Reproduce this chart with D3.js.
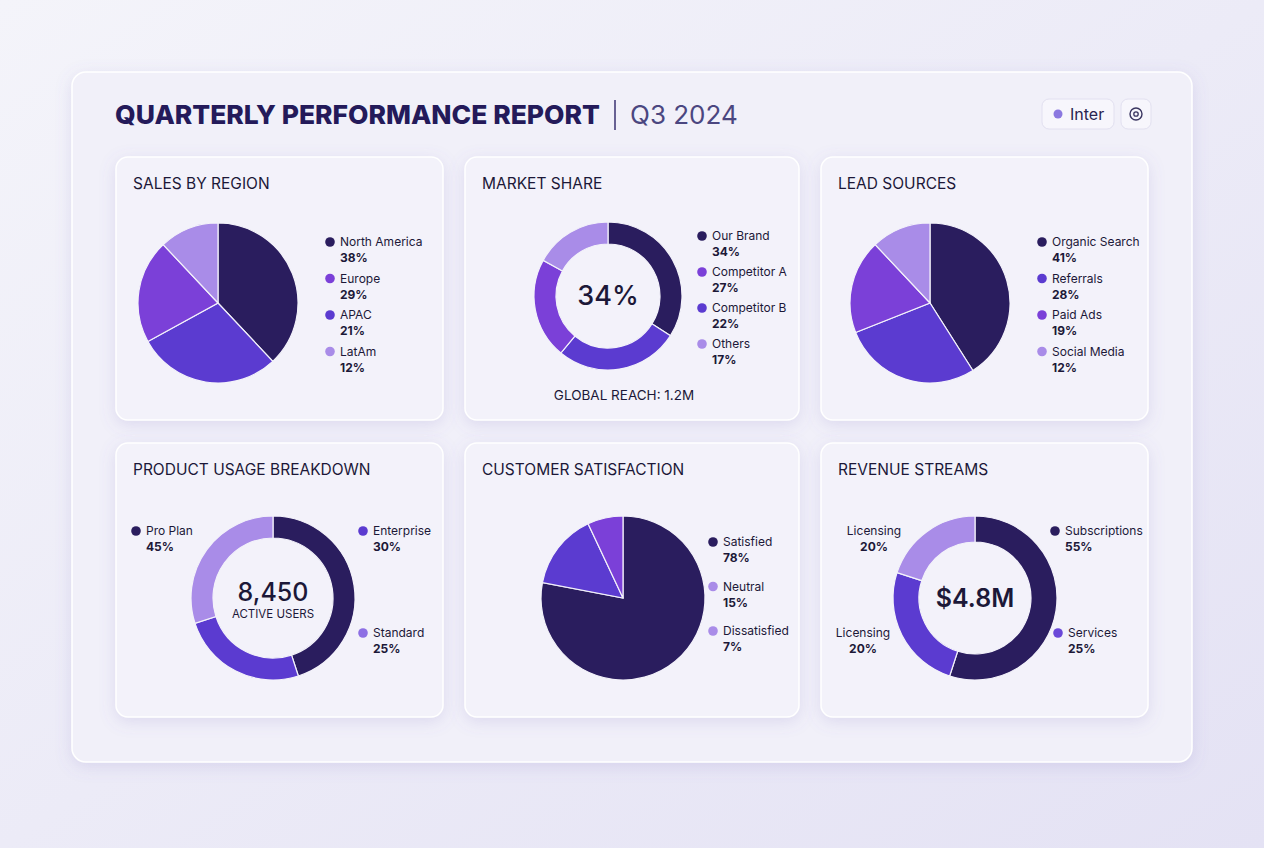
<!DOCTYPE html>
<html>
<head>
<meta charset="utf-8">
<script src="https://cdn.jsdelivr.net/npm/d3@7"></script>
<style>
  body { margin: 0; background: #eeeef8; font-family: Inter, "Noto Sans", sans-serif; }
  svg { display: block; }
</style>
</head>
<body>
<svg id="chart" width="1264" height="848"></svg>
<script>
var DARK = '#2a1d5e', PURPLE = '#7b40d8', BLUE = '#5b3bd0', LIGHT = '#a98ce8';

// data
var salesLabels = ['North America', 'Europe', 'APAC', 'LatAm'];
var salesValues = [38, 29, 21, 12];
var salesColors = [DARK, BLUE, PURPLE, LIGHT];
var salesLegendColors = [DARK, PURPLE, BLUE, LIGHT];

var shareLabels = ['Our Brand', 'Competitor A', 'Competitor B', 'Others'];
var shareValues = [34, 27, 22, 17];
var shareColors = [DARK, BLUE, PURPLE, LIGHT];
var shareLegendColors = [DARK, PURPLE, BLUE, LIGHT];

var leadLabels = ['Organic Search', 'Referrals', 'Paid Ads', 'Social Media'];
var leadValues = [41, 28, 19, 12];
var leadColors = [DARK, BLUE, PURPLE, LIGHT];
var leadLegendColors = [DARK, BLUE, PURPLE, LIGHT];

var usageLabels = ['Pro Plan', 'Standard', 'Enterprise'];
var usageValues = [45, 25, 30];
var usageColors = [DARK, BLUE, LIGHT];

var satLabels = ['Satisfied', 'Neutral', 'Dissatisfied'];
var satValues = [78, 15, 7];
var satColors = [DARK, BLUE, PURPLE];
var satLegendColors = [DARK, LIGHT, LIGHT];

var revLabels = ['Subscriptions', 'Services', 'Licensing'];
var revValues = [55, 25, 20];
var revColors = [DARK, BLUE, LIGHT];

var svg = d3.select('#chart');
var defs = svg.append('defs');
var bg = defs.append('linearGradient').attr('id', 'bg').attr('x1', 0).attr('y1', 0).attr('x2', 1).attr('y2', 1);
bg.append('stop').attr('offset', 0).attr('stop-color', '#f4f4fa');
bg.append('stop').attr('offset', 1).attr('stop-color', '#e4e2f4');
var sh = defs.append('filter').attr('id', 'sh').attr('x', -0.2).attr('y', -0.2).attr('width', 1.4).attr('height', 1.4);
sh.append('feDropShadow').attr('dx', 0).attr('dy', 4).attr('stdDeviation', 8).attr('flood-color', '#7a6fc0').attr('flood-opacity', 0.18);

svg.append('rect').attr('width', 1264).attr('height', 848).attr('fill', 'url(#bg)');
svg.append('rect').attr('x', 72).attr('y', 72).attr('width', 1120).attr('height', 690).attr('rx', 14)
  .attr('fill', '#f1f0f9').attr('stroke', '#ffffff').attr('stroke-width', 1.5).attr('filter', 'url(#sh)');

// header
svg.append('text').attr('x', 115).attr('y', 124).attr('font-size', 26).attr('font-weight', 800).attr('fill', '#241a5a')
  .attr('textLength', 485).attr('lengthAdjust', 'spacingAndGlyphs')
  .text('QUARTERLY PERFORMANCE REPORT');
svg.append('line').attr('x1', 615).attr('x2', 615).attr('y1', 100).attr('y2', 130).attr('stroke', '#3a3270').attr('stroke-width', 1.5);
svg.append('text').attr('x', 630).attr('y', 124).attr('font-size', 26).attr('fill', '#4b4680').text('Q3 2024');
svg.append('rect').attr('x', 1042).attr('y', 99).attr('width', 72).attr('height', 30).attr('rx', 7).attr('fill', '#f7f6fc').attr('stroke', '#e2e0f0');
svg.append('circle').attr('cx', 1058).attr('cy', 114).attr('r', 4.5).attr('fill', '#8b78e0');
svg.append('text').attr('x', 1070).attr('y', 120).attr('font-size', 16).attr('fill', '#2a2450').text('Inter');
svg.append('rect').attr('x', 1121).attr('y', 99).attr('width', 30).attr('height', 30).attr('rx', 7).attr('fill', '#f7f6fc').attr('stroke', '#e2e0f0');
svg.append('circle').attr('cx', 1136).attr('cy', 114).attr('r', 6).attr('fill', 'none').attr('stroke', '#3a3560').attr('stroke-width', 1.4);
svg.append('circle').attr('cx', 1136).attr('cy', 114).attr('r', 2.2).attr('fill', 'none').attr('stroke', '#3a3560').attr('stroke-width', 1.3);

var panels = [
  {x: 116, y: 157, w: 327, h: 263, t: 'SALES BY REGION'},
  {x: 465, y: 157, w: 334, h: 263, t: 'MARKET SHARE'},
  {x: 821, y: 157, w: 327, h: 263, t: 'LEAD SOURCES'},
  {x: 116, y: 443, w: 327, h: 274, t: 'PRODUCT USAGE BREAKDOWN'},
  {x: 465, y: 443, w: 334, h: 274, t: 'CUSTOMER SATISFACTION'},
  {x: 821, y: 443, w: 327, h: 274, t: 'REVENUE STREAMS'}
];
panels.forEach(function(p) {
  svg.append('rect').attr('x', p.x).attr('y', p.y).attr('width', p.w).attr('height', p.h).attr('rx', 12)
    .attr('fill', '#f3f2fa').attr('stroke', '#ffffff').attr('stroke-width', 1.5).attr('filter', 'url(#sh)');
  svg.append('text').attr('x', p.x + 17).attr('y', p.y + 32).attr('font-size', 15.5).attr('fill', '#1c1838').text(p.t);
});

var pie = d3.pie().sort(null);

function drawPie(cx, cy, r, inner, values, colors) {
  var g = svg.append('g').attr('transform', 'translate(' + cx + ',' + cy + ')');
  var arc = d3.arc().innerRadius(inner).outerRadius(r);
  g.selectAll('path').data(pie(values)).enter().append('path')
    .attr('d', arc).attr('fill', function(d, i) { return colors[i]; })
    .attr('stroke', '#f3f2fa').attr('stroke-width', 1.2);
  return g;
}

function legendItem(x, y, label, value, color, anchor) {
  anchor = anchor || 'start';
  if (color) svg.append('circle').attr('cx', x - 10).attr('cy', y - 4).attr('r', 4.8).attr('fill', color);
  svg.append('text').attr('x', x).attr('y', y).attr('font-size', 12).attr('fill', '#1c1838').attr('text-anchor', anchor).text(label);
  svg.append('text').attr('x', x).attr('y', y + 16).attr('font-size', 12).attr('font-weight', 700).attr('fill', '#1c1838').attr('text-anchor', anchor).text(value + '%');
}

function legend(x, y, step, labels, values, colors) {
  labels.forEach(function(l, i) { legendItem(x, y + i * step, l, values[i], colors[i]); });
}

// sales by region
drawPie(218, 303, 80, 0, salesValues, salesColors);
legend(340, 246, 36.5, salesLabels, salesValues, salesLegendColors);

// market share
drawPie(608, 296, 74, 52, shareValues, shareColors);
svg.append('text').attr('x', 608).attr('y', 305).attr('text-anchor', 'middle').attr('font-size', 27).attr('font-weight', 500).attr('fill', '#1c1838').text(shareValues[0] + '%');
legend(712, 240, 36, shareLabels, shareValues, shareLegendColors);
svg.append('text').attr('x', 624).attr('y', 400).attr('text-anchor', 'middle').attr('font-size', 13.5).attr('fill', '#1c1838').text('GLOBAL REACH: 1.2M');

// lead sources
drawPie(930, 303, 80, 0, leadValues, leadColors);
legend(1052, 246, 36.5, leadLabels, leadValues, leadLegendColors);

// product usage
drawPie(273, 598, 82, 60, usageValues, usageColors);
svg.append('text').attr('x', 273).attr('y', 601).attr('text-anchor', 'middle').attr('font-size', 25).attr('font-weight', 500).attr('fill', '#1c1838').text('8,450');
svg.append('text').attr('x', 273).attr('y', 618).attr('text-anchor', 'middle').attr('font-size', 11.5).attr('fill', '#1c1838').text('ACTIVE USERS');
legendItem(146, 535, usageLabels[0], usageValues[0], usageColors[0]);
legendItem(373, 535, usageLabels[2], usageValues[2], BLUE);
legendItem(373, 637, usageLabels[1], usageValues[1], '#8d6fe4');

// customer satisfaction
drawPie(623, 598, 82, 0, satValues, satColors);
legend(723, 546, 44.5, satLabels, satValues, satLegendColors);

// revenue streams
drawPie(975, 598, 82, 56, revValues, revColors);
svg.append('text').attr('x', 975).attr('y', 607).attr('text-anchor', 'middle').attr('font-size', 25).attr('font-weight', 600).attr('fill', '#1c1838').text('$4.8M');
legendItem(1065, 535, revLabels[0], revValues[0], revColors[0]);
legendItem(1068, 637, revLabels[1], revValues[1], '#6a48d8');
legendItem(874, 535, revLabels[2], revValues[2], null, 'middle');
legendItem(863, 637, revLabels[2], revValues[2], null, 'middle');
</script>
</body>
</html>
